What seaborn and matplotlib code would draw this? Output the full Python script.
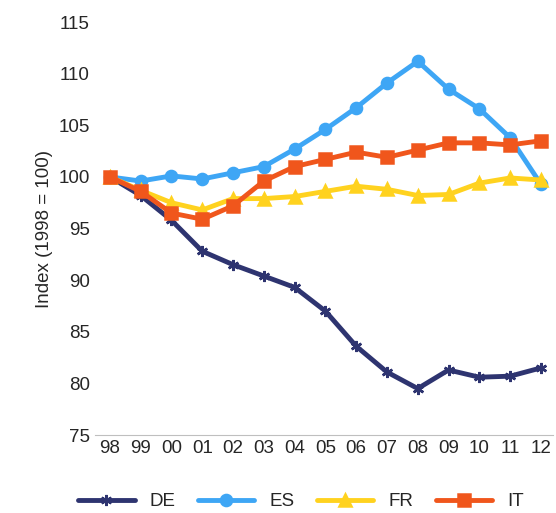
import seaborn as sns
import pandas as pd
import matplotlib.pyplot as plt

years = ['98', '99', '00', '01', '02', '03', '04', '05', '06', '07', '08', '09', '10', '11', '12']
de = [100, 98.2, 95.8, 92.8, 91.5, 90.4, 89.3, 87.0, 83.6, 81.1, 79.5, 81.3, 80.6, 80.7, 81.5]
es = [100, 99.6, 100.1, 99.8, 100.4, 101.0, 102.7, 104.6, 106.7, 109.1, 111.2, 108.5, 106.6, 103.8, 99.3]
fr = [100, 98.7, 97.5, 96.8, 97.9, 97.9, 98.1, 98.6, 99.1, 98.8, 98.2, 98.3, 99.4, 99.9, 99.7]
it = [100, 98.6, 96.5, 95.9, 97.2, 99.6, 101.0, 101.7, 102.4, 101.9, 102.6, 103.3, 103.3, 103.1, 103.5]

df = pd.DataFrame({'year': years, 'DE': de, 'ES': es, 'FR': fr, 'IT': it})
long = df.melt(id_vars='year', var_name='country', value_name='index')
long['x'] = long['year'].map({y: i for i, y in enumerate(years)})

sns.set_style('white')
plt.rcParams['font.family'] = ['Liberation Sans', 'DejaVu Sans']
fig, ax = plt.subplots(figsize=(5.56, 5.13), dpi=100)

palette = {'DE': '#2e3470', 'ES': '#3ea6f5', 'FR': '#ffd21f', 'IT': '#f0561c'}
markers = {'DE': (6, 2, 0), 'ES': 'o', 'FR': '^', 'IT': 's'}
for c in ['DE', 'ES', 'FR', 'IT']:
    d = long[long['country'] == c]
    sns.lineplot(data=d, x='x', y='index', ax=ax, color=palette[c], marker=markers[c],
                 markersize=8, linewidth=3.5, label=c, markeredgecolor=palette[c],
                 markeredgewidth=1.8)

ax.set_xticks(range(len(years)))
ax.set_xticklabels(years)
ax.set_xlim(-0.5, len(years) - 0.6)
ax.set_ylim(75, 115)
ax.set_yticks(range(75, 116, 5))
ax.tick_params(labelsize=13.5, length=0)
ax.set_xlabel('')
ax.set_ylabel('Index (1998 = 100)', fontsize=13.5)
for s in ['top', 'right', 'left']:
    ax.spines[s].set_visible(False)
ax.spines['bottom'].set_color('#bfbfbf')
ax.legend(loc='upper center', bbox_to_anchor=(0.45, -0.1), ncol=4, frameon=False,
          fontsize=13.5, handlelength=3, columnspacing=1.2)
plt.subplots_adjust(left=0.17, right=0.995, top=0.957, bottom=0.152)
plt.savefig('out.png')
